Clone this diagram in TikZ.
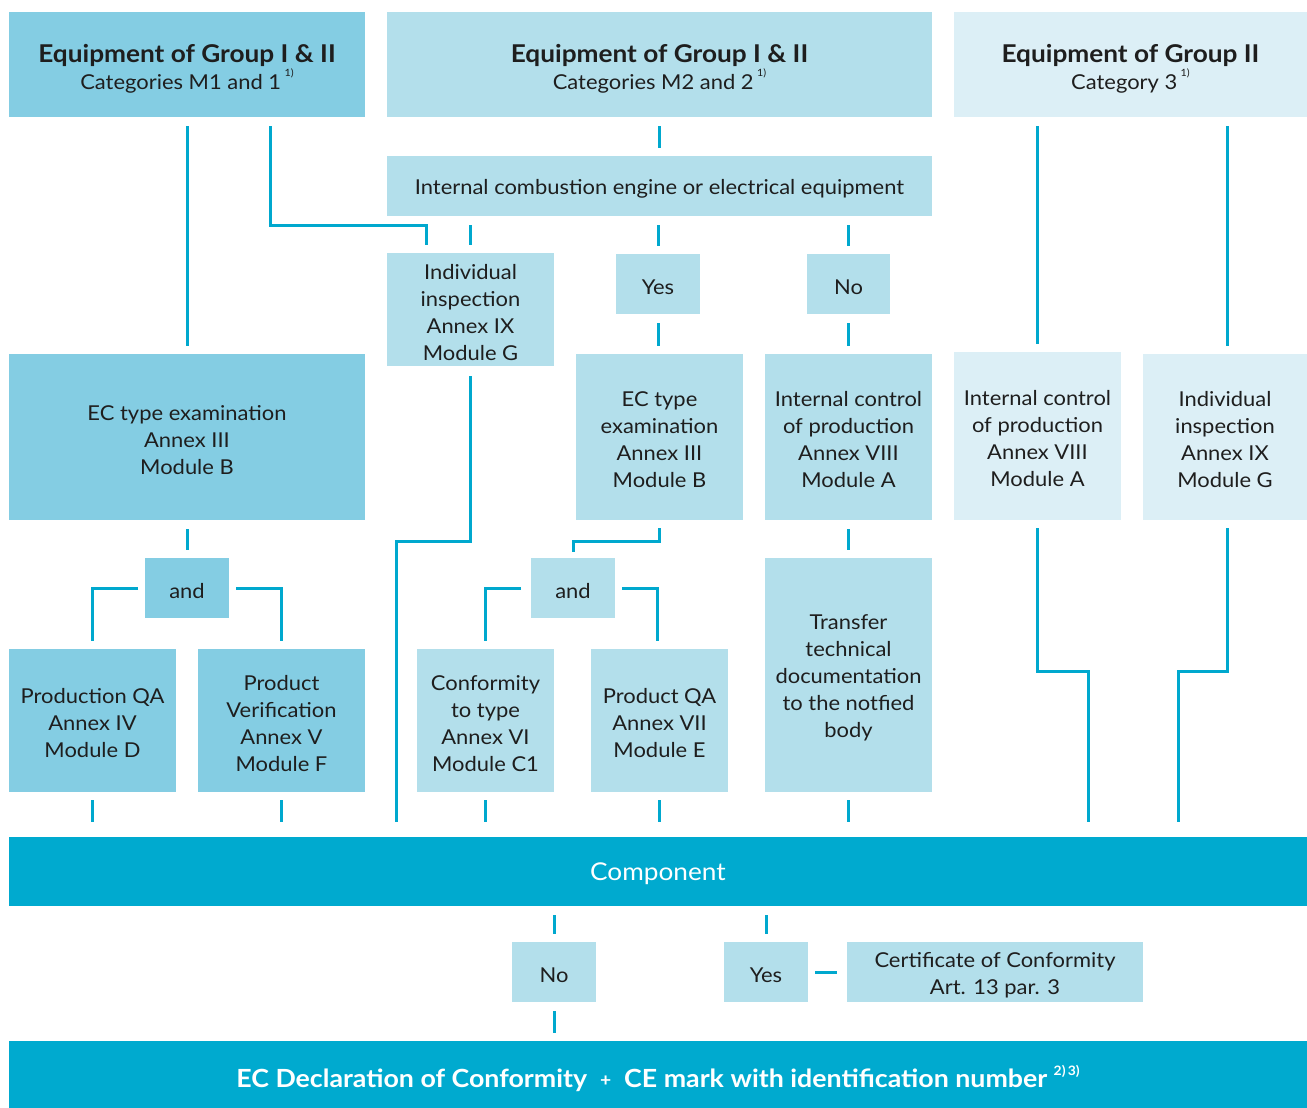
\documentclass[tikz,border=0pt]{standalone}
\usepackage{fontspec}
\setmainfont{Lato}[FakeStretch=1.07]
\usetikzlibrary{calc}
\definecolor{cdark}{HTML}{84CDE3}
\definecolor{cmid}{HTML}{B3DFEB}
\definecolor{clight}{HTML}{DCEFF6}
\definecolor{cband}{HTML}{00AACF}
\definecolor{cline}{HTML}{00A8CE}
\definecolor{ctext}{HTML}{1E1E1E}
\newcommand\supx[1]{\raisebox{0.6em}{\fontsize{10}{10}\selectfont #1}}
\newcommand\supy[1]{\raisebox{0.5em}{\fontsize{13}{13}\selectfont #1}}
\newcommand\bx[8][3]{\node[boxs, fill=#7, minimum width={#5pt-#3pt}, minimum height={#6pt-#4pt}] (#2) at (#3,#4) {};
  \node[txt] (#2t) at ($(#2.center)+(0,#1)$) {#8};}
\newcommand\hdr[2]{{\fontsize{24.5}{31}\selectfont\bfseries #1}\\#2}
\begin{document}
\begin{tikzpicture}[x=1pt,y=-1pt,
  boxs/.style={anchor=north west, inner sep=0pt, outer sep=0pt},
  txt/.style={inner sep=0pt, align=center, text=ctext, font=\fontsize{20.5}{27}\selectfont},
  conn/.style={draw=cline, line width=3pt, line join=miter, line cap=butt},
  stub/.style={conn, shorten <=9pt, shorten >=8pt},
  tostrip/.style={conn, shorten <=8pt, shorten >=15pt}]
\useasboundingbox (0,0) rectangle (1307,1108);
% headers
\bx[4]{g1}{9}{12}{365}{117}{cdark}{\hdr{Equipment of Group I \& II}{Categories M1 and 1\,\supx{1)}}}
\bx[4]{g2}{387}{12}{932}{117}{cmid}{\hdr{Equipment of Group I \& II}{Categories M2 and 2\,\supx{1)}}}
\bx[4]{g3}{954}{12}{1307}{117}{clight}{\hdr{Equipment of Group II}{Category 3\,\supx{1)}}}
\bx{ice}{387}{156}{932}{216}{cmid}{Internal combustion engine or electrical equipment}
\bx{ii1}{387}{253}{554}{366}{cmid}{Individual\\inspection\\Annex IX\\Module G}
\bx{yes1}{616}{254}{700}{314}{cmid}{Yes}
\bx{no1}{807}{254}{890}{314}{cmid}{No}
\bx{ecb1}{9}{354}{365}{520}{cdark}{EC type examination\\Annex III\\Module B}
\bx{ecb2}{576}{354}{743}{520}{cmid}{EC type\\examination\\Annex III\\Module B}
\bx{icp2}{765}{354}{932}{520}{cmid}{Internal control\\of production\\Annex VIII\\Module A}
\bx{icp3}{954}{352}{1121}{520}{clight}{Internal control\\of production\\Annex VIII\\Module A}
\bx{ii3}{1143}{354}{1307}{520}{clight}{Individual\\inspection\\Annex IX\\Module G}
\bx{and1}{145}{558}{229}{618}{cdark}{and}
\bx{and2}{531}{558}{615}{618}{cmid}{and}
\bx{pqa}{9}{649}{176}{792}{cdark}{Production QA\\Annex IV\\Module D}
\bx{pv}{198}{649}{365}{792}{cdark}{Product\\Verification\\Annex V\\Module F}
\bx{ctt}{417}{649}{554}{792}{cmid}{Conformity\\to type\\Annex VI\\Module C1}
\bx{prqa}{591}{649}{728}{792}{cmid}{Product QA\\Annex VII\\Module E}
\bx{ttd}{765}{558}{932}{792}{cmid}{Transfer\\technical\\documentation\\to the notfied\\body}
\bx[2]{comp}{9}{837}{1307}{906}{cband}{\textcolor{white}{\fontsize{24.5}{28}\selectfont Component}}
\bx{no2}{512}{942}{596}{1002}{cmid}{No}
\bx{yes2}{724}{942}{808}{1002}{cmid}{Yes}
\bx{cert}{847}{942}{1143}{1002}{cmid}{Certificate of Conformity\\Art. 13 par. 3}
\bx[4]{ecd}{9}{1041}{1307}{1108}{cband}{\textcolor{white}{\fontsize{25}{28}\selectfont\bfseries EC Declaration of Conformity\ \ {\fontsize{18}{18}\selectfont\raisebox{1pt}{+}}\ \ CE mark with identification number \supy{2)\,3)}}}
% straight connectors
\draw[stub] (g1.south) -- (ecb1.north);
\draw[stub] (g2.south) -- (ice.north);
\draw[stub] (ice.south -| ii1.north) -- (ii1.north);
\draw[stub] (ice.south -| yes1.north) -- (yes1.north);
\draw[stub] (ice.south -| no1.north) -- (no1.north);
\draw[stub] (yes1.south) -- (ecb2.north -| yes1.south);
\draw[stub] (no1.south) -- (icp2.north);
\draw[stub] (g3.south -| icp3.north) -- (icp3.north);
\draw[stub] ($(g3.south -| ii3.north)+(2,0)$) -- ($(ii3.north)+(2,0)$);
\draw[stub] (ecb1.south) -- (and1.north);
\draw[stub] (icp2.south) -- (ttd.north);
\foreach \n in {pqa,pv,ctt,prqa,ttd}{\draw[tostrip] (\n.south) -- (comp.north -| \n.south);}
\draw[stub] (comp.south -| no2.north) -- (no2.north);
\draw[stub] (comp.south -| yes2.north) -- (yes2.north);
\draw[stub] (no2.south) -- (ecd.north -| no2.south);
\draw[conn, shorten <=7pt, shorten >=10pt] (yes2.east) -- (cert.west);
% elbow connectors
\draw[conn] ($(g1.south west)+(261,9)$) |- ($(ii1.north west)+(39,-28)$) -- ($(ii1.north west)+(39,-8)$);
\draw[conn] ($(ii1.south)+(0,10)$) |- ($(comp.north west)+(387,-296)$) -- ($(comp.north west)+(387,-15)$);
\draw[conn] ($(and1.west)+(-7,0)$) -| ($(pqa.north)+(0,-8)$);
\draw[conn] ($(and1.east)+(7,0)$) -| ($(pv.north)+(0,-8)$);
\draw[conn] ($(ecb2.south)+(0,8)$) |- ($(and2.north)+(0,-17)$) -- ($(and2.north)+(0,-6)$);
\draw[conn] ($(and2.west)+(-10,0)$) -| ($(ctt.north)+(0,-8)$);
\draw[conn] ($(and2.east)+(7,0)$) -| ($(prqa.north)+(-2,-8)$);
\draw[conn] ($(icp3.south)+(0,8)$) |- ($(comp.north west)+(1079,-166)$) -- ($(comp.north west)+(1079,-15)$);
\draw[conn] ($(ii3.south)+(2,8)$) |- ($(comp.north west)+(1169,-166)$) -- ($(comp.north west)+(1169,-15)$);
\end{tikzpicture}
\end{document}
